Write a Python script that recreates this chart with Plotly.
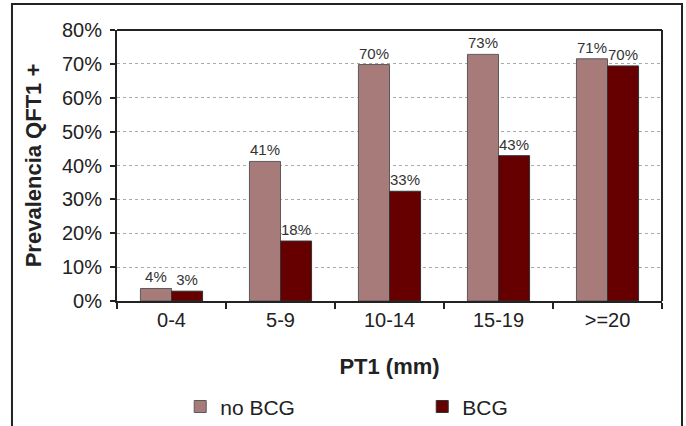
import plotly.graph_objects as go

categories = ["0-4", "5-9", "10-14", "15-19", ">=20"]
no_bcg = [3.7, 41.2, 69.8, 72.8, 71.5]
bcg = [2.9, 17.7, 32.4, 42.9, 69.4]
no_bcg_labels = ["4%", "41%", "70%", "73%", "71%"]
bcg_labels = ["3%", "18%", "33%", "43%", "70%"]
y_ticks = [0, 10, 20, 30, 40, 50, 60, 70, 80]
y_tick_labels = ["0%", "10%", "20%", "30%", "40%", "50%", "60%", "70%", "80%"]

FONT = "Liberation Sans, Arial, sans-serif"
INK = "#222222"

fig = go.Figure()
fig.add_trace(go.Bar(
    x=categories, y=no_bcg, name="no BCG",
    marker=dict(color="#A67B79", line=dict(color="#5a5a5a", width=1)),
    text=no_bcg_labels, textposition="outside", cliponaxis=False,
    textfont=dict(size=15, color="#333333", family=FONT),
))
fig.add_trace(go.Bar(
    x=categories, y=bcg, name="BCG",
    marker=dict(color="#660000", line=dict(color="#333333", width=1)),
    text=bcg_labels, textposition="outside", cliponaxis=False,
    textfont=dict(size=15, color="#333333", family=FONT),
))

fig.update_layout(
    width=686, height=426,
    margin=dict(l=117, r=24, t=30, b=125, autoexpand=False),
    paper_bgcolor="white", plot_bgcolor="white",
    barmode="group", bargap=0.43, bargroupgap=0,
    font=dict(family=FONT, color=INK),
    showlegend=True,
    legend=dict(orientation="h", x=0.116, y=-0.315, xanchor="left", yanchor="top",
                font=dict(size=21, family=FONT, color=INK),
                entrywidth=197, entrywidthmode="pixels", itemwidth=30,
                bgcolor="rgba(0,0,0,0)"),
    xaxis=dict(
        title=dict(text="<b>PT1 (mm)</b>", font=dict(size=22, family=FONT, color=INK), standoff=29),
        tickfont=dict(size=20, family=FONT, color=INK),
        showline=True, linecolor=INK, linewidth=2, mirror=False,
        ticks="outside", tickson="boundaries", ticklen=6, tickcolor=INK, tickwidth=2,
        showgrid=False, automargin=False,
    ),
    yaxis=dict(
        title=dict(text="<b>Prevalencia QFT1 +</b>", font=dict(size=22, family=FONT, color=INK), standoff=14),
        range=[0, 80], tickmode="array", tickvals=y_ticks, ticktext=y_tick_labels,
        tickfont=dict(size=20, family=FONT, color=INK),
        showline=True, linecolor=INK, linewidth=2,
        ticks="outside", ticklen=5, tickcolor=INK, tickwidth=2, ticklabelstandoff=4,
        showgrid=True, gridcolor="#aaaaaa", griddash="dot", gridwidth=1,
        zeroline=False, automargin=False,
    ),
)

# plot-area top and right border
fig.add_shape(type="line", xref="paper", yref="paper", x0=0, x1=1, y0=1, y1=1,
              line=dict(color=INK, width=2))
fig.add_shape(type="line", xref="paper", yref="paper", x0=1, x1=1, y0=0, y1=1,
              line=dict(color=INK, width=2))
# outer frame (open at the bottom)
fig.add_shape(type="path", xref="paper", yref="paper",
              path="M -0.1927,-0.48 L -0.1927,1.0959 L 1.0367,1.0959 L 1.0367,-0.48",
              line=dict(color=INK, width=2))

fig.write_html("out.html", config={"displayModeBar": False},
               post_script="document.body.style.margin='0';document.body.style.overflow='hidden';")
